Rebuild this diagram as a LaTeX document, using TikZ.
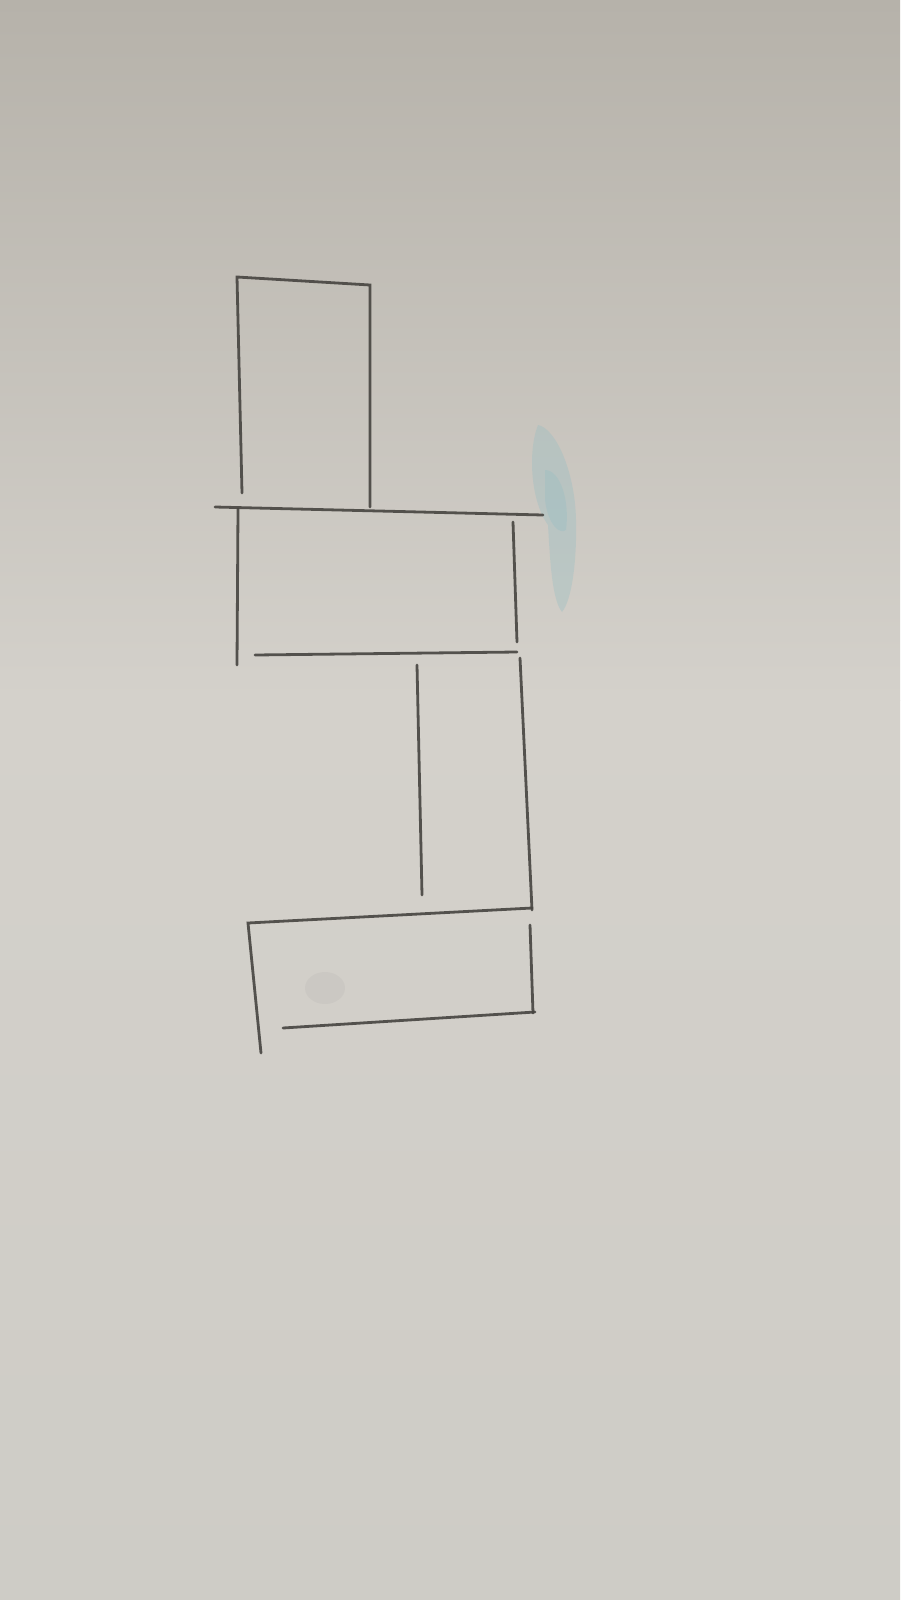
\documentclass[tikz,border=0pt]{standalone}
\begin{document}
\begin{tikzpicture}[x=1pt,y=-1pt,
  pencil/.style={draw=pencilgray,line width=2.8pt,line cap=round,opacity=0.9}]
\definecolor{pencilgray}{RGB}{70,68,64}
\definecolor{papertop}{RGB}{182,178,170}
\definecolor{papermid}{RGB}{212,209,203}
\definecolor{paperbot}{RGB}{206,204,198}
\definecolor{smudgeblue}{RGB}{150,190,195}
\useasboundingbox (0,0) rectangle (900,1600);
\shade[top color=papertop,bottom color=papermid] (0,0) rectangle (900,700);
\shade[top color=papermid,bottom color=paperbot] (0,700) rectangle (900,1600);
% blue smudge
\fill[smudgeblue,opacity=0.35] (538,425) .. controls (555,428) and (575,470) .. (576,520)
  .. controls (577,560) and (572,600) .. (562,612)
  .. controls (552,600) and (550,560) .. (548,525)
  .. controls (530,500) and (528,450) .. (538,425) -- cycle;
\fill[smudgeblue,opacity=0.35] (545,470) .. controls (560,470) and (570,500) .. (566,530)
  .. controls (560,535) and (548,525) .. (545,500) -- cycle;
% pencil smudge
\fill[gray,opacity=0.08] (325,988) ellipse (20pt and 16pt);
% top box
\draw[pencil] (242,493) -- (237,277) -- (370,285) -- (370,507);
% long horizontal
\draw[pencil] (215,507) -- (543,515);
% second box sides
\draw[pencil] (238,509) -- (237,665);
\draw[pencil] (513,522) -- (517,642);
% third horizontal
\draw[pencil] (255,655) -- (517,652);
% middle vertical
\draw[pencil] (417,665) -- (422,895);
% right vertical
\draw[pencil] (520,658) -- (532,910);
% fourth horizontal and left side
\draw[pencil] (532,908) -- (248,923) -- (261,1053);
% bottom right
\draw[pencil] (530,925) -- (533,1013);
\draw[pencil] (283,1028) -- (535,1012);
\end{tikzpicture}
\end{document}
